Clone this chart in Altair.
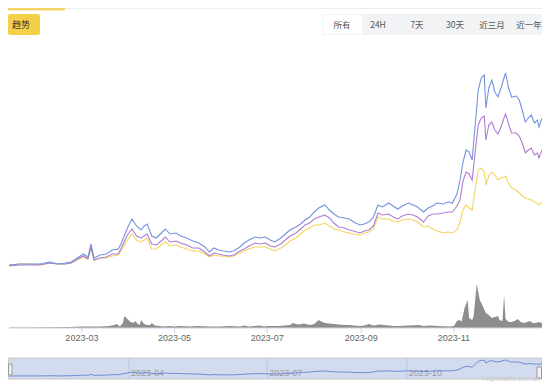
import altair as alt
import pandas as pd

start = pd.Timestamp("2023-01-12")

# day offsets from start for the three price-like series
line_day = [0, 7, 14, 20, 27, 32, 37, 41, 45, 49,
            52, 54, 56, 60, 64, 68, 72, 74, 78, 81,
            84, 87, 89, 91, 94, 97, 101, 103, 106, 110,
            113, 117, 121, 125, 129, 132, 135, 138, 141, 145,
            148, 152, 155, 158, 162, 165, 169, 172, 175, 179,
            182, 185, 189, 192, 195, 198, 201, 204, 208, 211,
            214, 217, 221, 224, 227, 231, 234, 237, 240, 243,
            246, 250, 253, 256, 259, 263, 266, 269, 273, 276,
            279, 282, 286, 289, 292, 295, 297, 299, 301, 303,
            305, 307, 309, 311, 313, 314, 316, 318, 320, 322,
            324, 326, 327, 329, 331, 334, 336, 338, 340, 342,
            344, 346, 348, 349, 351]

blue = [63, 64, 64, 64, 66, 64, 65, 66, 70, 74,
        71, 84, 70, 73, 74, 78, 79, 85, 100, 109,
        102, 98, 102, 104, 92, 90, 96, 99, 94, 95,
        92, 90, 87, 85, 81, 76, 80, 78, 77, 76,
        77, 81, 85, 88, 91, 90, 91, 88, 86, 90,
        94, 98, 101, 104, 108, 111, 116, 120, 123, 118,
        114, 111, 110, 109, 106, 103, 104, 106, 111, 123,
        121, 125, 122, 119, 122, 125, 123, 121, 116, 120,
        122, 125, 124, 126, 125, 134, 148, 166, 178, 176,
        168, 203, 238, 250, 253, 220, 240, 248, 236, 231,
        240, 250, 255, 240, 231, 232, 228, 218, 206, 210,
        213, 205, 208, 201, 210]

purple = [62, 63, 63, 63, 65, 64, 64, 65, 69, 72,
          69, 81, 68, 70, 71, 74, 74, 80, 93, 99,
          92, 90, 92, 94, 84, 83, 88, 91, 86, 87,
          85, 83, 80, 80, 76, 72, 75, 74, 73, 72,
          73, 77, 79, 82, 85, 84, 85, 82, 81, 84,
          88, 92, 95, 99, 103, 105, 109, 111, 113, 110,
          105, 101, 100, 98, 97, 95, 97, 98, 102, 115,
          113, 114, 111, 109, 112, 114, 113, 111, 106, 112,
          114, 114, 115, 116, 116, 122, 128, 147, 156, 154,
          148, 176, 203, 210, 212, 188, 203, 206, 198, 194,
          201, 210, 214, 204, 195, 195, 192, 185, 175, 178,
          180, 173, 175, 170, 178]

yellow = [63, 64, 64, 63, 65, 64, 64, 65, 68, 71,
          69, 79, 68, 70, 70, 72, 73, 78, 88, 94,
          88, 86, 88, 90, 79, 79, 84, 86, 82, 83,
          81, 79, 77, 77, 74, 71, 73, 72, 72, 71,
          72, 75, 77, 79, 81, 81, 81, 79, 77, 80,
          83, 87, 90, 94, 98, 100, 103, 103, 105, 102,
          99, 98, 96, 95, 94, 93, 95, 96, 99, 111,
          109, 109, 107, 106, 108, 109, 108, 106, 101, 102,
          99, 97, 95, 96, 95, 98, 106, 118, 123, 120,
          118, 138, 158, 160, 156, 143, 152, 156, 153, 148,
          150, 151, 152, 145, 140, 138, 135, 132, 130, 129,
          128, 126, 125, 123, 126]

vol_day = [0, 14, 27, 40, 47, 53, 60, 66, 69, 71,
           73, 75, 76, 78, 80, 82, 83, 85, 86, 87,
           89, 91, 93, 94, 96, 99, 102, 106, 109, 112,
           119, 125, 132, 139, 145, 152, 155, 158, 162, 165,
           168, 171, 178, 185, 187, 189, 191, 194, 198, 201,
           204, 205, 208, 211, 214, 217, 221, 224, 227, 231,
           234, 237, 240, 244, 247, 250, 254, 257, 263, 270,
           273, 277, 283, 290, 293, 295, 297, 298, 300, 302,
           303, 305, 306, 308, 309, 310, 312, 314, 316, 318,
           320, 322, 323, 325, 326, 327, 329, 331, 333, 335,
           337, 339, 341, 343, 345, 347, 349, 351]

volume = [0.5, 0.5, 0.8, 1, 1.5, 1.5, 1.5, 2, 3, 4,
          1.5, 5, 12, 9, 6, 5, 7, 4, 3, 8,
          4, 3, 3, 5, 2.5, 2, 1.5, 2, 1.5, 2,
          1.5, 2, 1.5, 1.5, 2, 1.5, 2.5, 1.5, 2, 2.5,
          1.5, 2, 2, 3, 5, 4, 3.5, 4.5, 3, 4,
          8, 7, 5, 4.5, 4, 3.5, 3, 3, 2.5, 2,
          2.5, 4, 2.5, 3.5, 3, 2.5, 2, 2, 2.5, 3,
          2, 2.5, 2, 1.5, 2, 7, 8, 6, 20, 28,
          10, 8, 12, 44, 36, 28, 22, 15, 13, 10,
          11, 12, 8, 7, 33, 9, 6, 6, 7, 9,
          6, 5, 6, 7, 5, 5, 6, 5]

series_names = ["蓝", "紫", "黄"]
series_colors = ["#7592de", "#b07cd2", "#f2d55e"]

axis_ticks = ["2023-03-01", "2023-05-01", "2023-07-01", "2023-09-01", "2023-11-01"]
nav_ticks = ["2023-04-01", "2023-07-01", "2023-10-01"]
range_buttons = ["所有", "24H", "7天", "30天", "近三月", "近一年"]
tab_label = "趋势"
credit = "Highcharts.com.cn"

# ---- tables ----
line_dates = start + pd.to_timedelta(line_day, unit="D")
df_lines = pd.concat([
    pd.DataFrame({"date": line_dates, "series": series_names[2], "value": yellow, "o": 0}),
    pd.DataFrame({"date": line_dates, "series": series_names[1], "value": purple, "o": 1}),
    pd.DataFrame({"date": line_dates, "series": series_names[0], "value": blue, "o": 2}),
], ignore_index=True)

df_blue = pd.DataFrame({"date": line_dates, "value": blue})
df_vol = pd.DataFrame({"date": start + pd.to_timedelta(vol_day, unit="D"), "vol": volume})
df_ticks = pd.DataFrame({"date": pd.to_datetime(axis_ticks)})
df_nav = pd.DataFrame({"date": pd.to_datetime(nav_ticks)})
one = pd.DataFrame({"k": [0]})

W, H = 534, 374
xs = alt.Scale(domain=[alt.DateTime(year=2023, month=1, date=12),
                       alt.DateTime(year=2023, month=12, date=29)],
               range=[1, 534], nice=False)
ys_main = alt.Scale(domain=[0, 260], range=[320, 60], nice=False, zero=False)
ys_nav = alt.Scale(domain=[63, 255], range=[368, 352], nice=False, zero=False)

X = alt.X("date:T", scale=xs, axis=None)

lines = alt.Chart(df_lines).mark_line(strokeWidth=1.1).encode(
    x=X,
    y=alt.Y("value:Q", scale=ys_main, axis=None),
    color=alt.Color("series:N",
                    scale=alt.Scale(domain=series_names, range=series_colors),
                    legend=None),
    detail="o:O",
)

vol_area = alt.Chart(df_vol).mark_area(color="#8e8e8e", opacity=1).encode(
    x=X,
    y=alt.Y("vol:Q", scale=ys_main, axis=None),
)

baseline = alt.Chart(one).mark_rule(color="#ccd6eb", strokeWidth=1).encode(
    x=alt.value(1), x2=alt.value(534), y=alt.value(320))

ticks = alt.Chart(df_ticks).mark_rule(color="#ccd6eb").encode(
    x=X, y=alt.value(320), y2=alt.value(325))

tick_labels = alt.Chart(df_ticks).mark_text(
    font="Liberation Sans", fontSize=9, color="#666666", baseline="middle"
).encode(x=X, y=alt.value(330), text=alt.Text("date:T", format="%Y-%m"))

# navigator
nav_bg = alt.Chart(one).mark_rect(fill="#d3dcef", stroke="#c8c8c8", strokeWidth=1).encode(
    x=alt.value(0.5), x2=alt.value(534), y=alt.value(350), y2=alt.value(371))
nav_grid = alt.Chart(df_nav).mark_rule(color="#bcc6de").encode(
    x=X, y=alt.value(350), y2=alt.value(371))
nav_labels = alt.Chart(df_nav).mark_text(
    font="Liberation Sans", fontSize=9, color="#9a9a9a", align="left", baseline="middle", dx=2
).encode(x=X, y=alt.value(365), text=alt.Text("date:T", format="%Y-%m"))
nav_line = alt.Chart(df_blue).mark_line(color="#6f8bd6", strokeWidth=1).encode(
    x=X, y=alt.Y("value:Q", scale=ys_nav, axis=None))
handle_l = alt.Chart(one).mark_rect(fill="#f2f2f2", stroke="#999999", strokeWidth=1).encode(
    x=alt.value(0.5), x2=alt.value(4), y=alt.value(356), y2=alt.value(367))
handle_r = alt.Chart(one).mark_rect(fill="#f2f2f2", stroke="#999999", strokeWidth=1).encode(
    x=alt.value(529), x2=alt.value(533.5), y=alt.value(359), y2=alt.value(370))
watermark = alt.Chart(one).mark_text(
    text=credit, font="Liberation Sans", fontSize=7, color="#c8c8c8",
    align="right", baseline="bottom").encode(x=alt.value(532), y=alt.value(374))

# header
top_line = alt.Chart(one).mark_rule(color="#eeeeee", strokeWidth=1).encode(
    x=alt.value(0), x2=alt.value(534), y=alt.value(0.5))
top_accent = alt.Chart(one).mark_rule(color="#f3d56a", strokeWidth=3).encode(
    x=alt.value(0), x2=alt.value(57), y=alt.value(1))
tab_btn = alt.Chart(one).mark_rect(fill="#f6cf48", cornerRadius=2).encode(
    x=alt.value(0), x2=alt.value(32), y=alt.value(6), y2=alt.value(27))
tab_text = alt.Chart(one).mark_text(
    text=tab_label, font="Noto Sans CJK SC", fontSize=9, color="#333333",
    align="center", baseline="middle").encode(x=alt.value(13), y=alt.value(17))

btn_bg = alt.Chart(one).mark_rect(fill="#f2f3f5").encode(
    x=alt.value(315), x2=alt.value(534), y=alt.value(6), y2=alt.value(27))
btn_sel = alt.Chart(one).mark_rect(fill="#ffffff").encode(
    x=alt.value(316), x2=alt.value(354), y=alt.value(7), y2=alt.value(26))

btn_x = [334, 370, 409, 447, 484, 521]
btn_layers = []
for lab, bx in zip(range_buttons, btn_x):
    btn_layers.append(alt.Chart(one).mark_text(
        text=lab, font="Noto Sans CJK SC", fontSize=8.5, color="#555555",
        align="center", baseline="middle").encode(x=alt.value(bx), y=alt.value(17)))

chart = alt.layer(
    top_line, top_accent, tab_btn, tab_text, btn_bg, btn_sel, *btn_layers,
    vol_area, baseline, ticks, tick_labels, lines,
    nav_bg, nav_grid, nav_labels, nav_line, handle_l, handle_r, watermark,
).resolve_scale(y="independent").properties(
    width=W, height=H, padding=0, autosize=alt.AutoSizeParams(type="none"),
    background="white",
).configure_view(stroke=None)

chart.save("out.html", embed_options={"renderer": "svg", "actions": False})
